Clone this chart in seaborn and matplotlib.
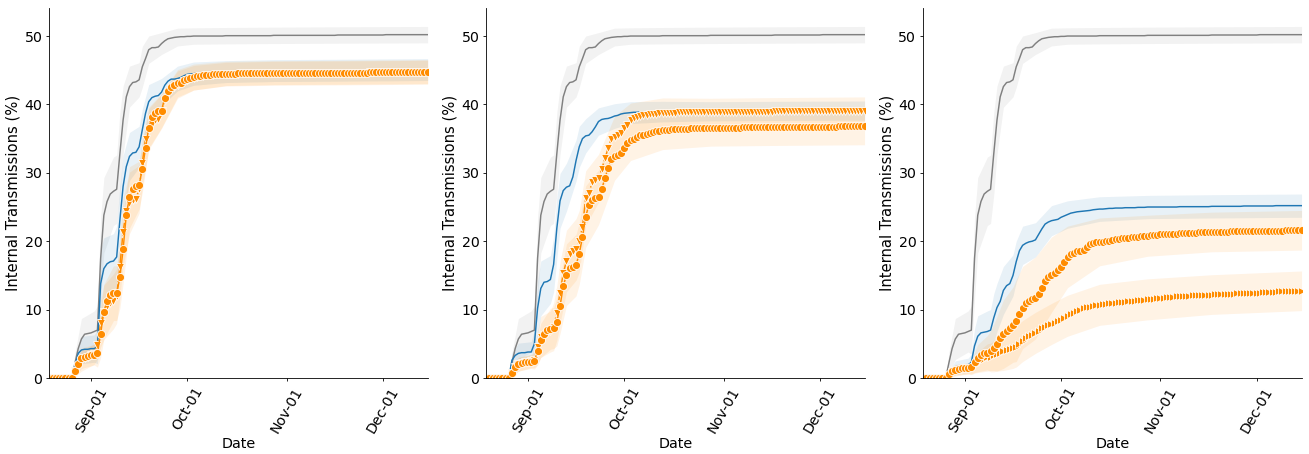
import numpy as np
import pandas as pd
import matplotlib
matplotlib.use('Agg')
import matplotlib.pyplot as plt
import matplotlib.dates as mdates
import seaborn as sns


START_DATE = '2020-08-19'
N_DAYS = 119

# grey reference curve, same in every panel
baseline = [
    0, 0, 0, 0, 0, 0, 0, 0, 2.2, 4.3,
    5.7, 6.4, 6.5, 6.6, 6.8, 7.0, 17.5, 23.8, 25.8, 26.9,
    27.3, 27.6, 32.8, 37.7, 41.1, 42.6, 43.2, 43.3, 43.6, 45.5,
    46.7, 48.0, 48.3, 48.3, 48.4, 48.9, 49.3, 49.6, 49.7, 49.8,
    49.85, 49.9, 49.9, 49.95, 49.95, 50.0, 50.0, 50.0, 50.0, 50.0,
    50.0, 50.0, 50.0, 50.0, 50.0, 50.05, 50.05, 50.05, 50.05, 50.05,
    50.05, 50.05, 50.05, 50.05, 50.05, 50.05, 50.05, 50.05, 50.05, 50.05,
    50.1, 50.1, 50.1, 50.1, 50.1, 50.1, 50.1, 50.1, 50.1, 50.1,
    50.1, 50.1, 50.1, 50.1, 50.1, 50.1, 50.1, 50.1, 50.1, 50.1,
    50.15, 50.15, 50.15, 50.15, 50.15, 50.15, 50.15, 50.15, 50.15, 50.15,
    50.15, 50.15, 50.15, 50.15, 50.15, 50.2, 50.2, 50.2, 50.2, 50.2,
    50.2, 50.2, 50.2, 50.2, 50.2, 50.2, 50.2, 50.2, 50.2,
]

# panel 1
p1_blue = [
    0, 0, 0, 0, 0, 0, 0, 0, 1.7, 3.6,
    4.1, 4.2, 4.2, 4.3, 4.3, 4.6, 13.8, 16.0, 16.7, 17.0,
    17.1, 17.7, 23.1, 28.0, 30.9, 32.4, 32.9, 33.0, 33.8, 36.3,
    38.7, 40.4, 41.0, 41.2, 41.3, 41.8, 42.8, 43.4, 43.7, 43.7,
    43.8, 43.95, 44.2, 44.4, 44.45, 44.5, 44.55, 44.6, 44.65, 44.7,
    44.7, 44.75, 44.75, 44.8, 44.8, 44.8, 44.85, 44.85, 44.85, 44.9,
    44.9, 44.9, 44.9, 44.9, 44.9, 44.9, 44.9, 44.9, 44.9, 44.9,
    44.95, 44.95, 44.95, 44.95, 44.95, 44.95, 44.95, 44.95, 44.95, 44.95,
    45.0, 45.0, 45.0, 45.0, 45.0, 45.0, 45.0, 45.0, 45.0, 45.0,
    45.0, 45.0, 45.0, 45.0, 45.0, 45.05, 45.05, 45.05, 45.05, 45.05,
    45.05, 45.05, 45.05, 45.05, 45.05, 45.05, 45.05, 45.05, 45.05, 45.05,
    45.1, 45.1, 45.1, 45.1, 45.1, 45.1, 45.1, 45.1, 45.1,
]
p1_circle = [
    0, 0, 0, 0, 0, 0, 0, 0, 1.0, 2.0,
    2.9, 3.1, 3.2, 3.3, 3.4, 3.6, 6.5, 9.7, 11.3, 12.1,
    12.4, 12.4, 14.7, 18.8, 23.9, 26.4, 27.7, 28.0, 28.2, 30.6,
    33.6, 36.6, 38.1, 38.8, 39.0, 39.1, 41.0, 42.0, 42.6, 42.9,
    43.1, 43.2, 43.5, 43.7, 43.8, 44.0, 44.1, 44.2, 44.25, 44.3,
    44.35, 44.4, 44.4, 44.45, 44.45, 44.5, 44.5, 44.5, 44.5, 44.55,
    44.55, 44.55, 44.55, 44.55, 44.55, 44.55, 44.55, 44.55, 44.55, 44.55,
    44.6, 44.6, 44.6, 44.6, 44.6, 44.6, 44.6, 44.6, 44.6, 44.6,
    44.6, 44.6, 44.6, 44.6, 44.6, 44.65, 44.65, 44.65, 44.65, 44.65,
    44.65, 44.65, 44.65, 44.65, 44.65, 44.65, 44.65, 44.65, 44.65, 44.65,
    44.7, 44.7, 44.7, 44.7, 44.7, 44.7, 44.7, 44.7, 44.7, 44.7,
    44.7, 44.7, 44.7, 44.7, 44.75, 44.75, 44.75, 44.75, 44.75,
]
p1_tri = [
    0, 0, 0, 0, 0, 0, 0, 0, 1.0, 1.8,
    2.5, 2.9, 3.1, 3.3, 3.5, 4.8, 8.0, 9.6, 10.6, 11.0,
    11.2, 12.0, 16.3, 21.4, 24.4, 25.6, 26.0, 26.2, 27.6, 31.5,
    35.0, 36.4, 37.2, 37.7, 37.9, 39.0, 40.6, 41.6, 42.2, 42.6,
    42.9, 43.1, 43.4, 43.6, 43.8, 43.9, 44.0, 44.1, 44.2, 44.25,
    44.3, 44.35, 44.4, 44.4, 44.45, 44.45, 44.5, 44.5, 44.5, 44.5,
    44.55, 44.55, 44.55, 44.55, 44.55, 44.55, 44.55, 44.55, 44.55, 44.55,
    44.6, 44.6, 44.6, 44.6, 44.6, 44.6, 44.6, 44.6, 44.6, 44.6,
    44.6, 44.6, 44.6, 44.6, 44.6, 44.65, 44.65, 44.65, 44.65, 44.65,
    44.65, 44.65, 44.65, 44.65, 44.65, 44.65, 44.65, 44.65, 44.65, 44.65,
    44.7, 44.7, 44.7, 44.7, 44.7, 44.7, 44.7, 44.7, 44.7, 44.7,
    44.7, 44.7, 44.7, 44.7, 44.75, 44.75, 44.75, 44.75, 44.75,
]

# panel 2
p2_blue = [
    0, 0, 0, 0, 0, 0, 0, 0, 2.6, 3.3,
    3.6, 3.7, 3.7, 3.8, 3.8, 5.0, 10.2, 13.1, 14.0, 14.1,
    14.4, 16.6, 21.9, 25.9, 27.4, 27.9, 28.1, 29.4, 31.8, 33.8,
    35.0, 35.4, 35.5, 36.0, 36.7, 37.5, 37.8, 37.9, 37.95, 38.1,
    38.3, 38.4, 38.6, 38.7, 38.75, 38.8, 38.85, 38.85, 38.9, 38.9,
    38.9, 38.9, 38.95, 38.95, 38.95, 38.95, 39.0, 39.0, 39.0, 39.0,
    39.0, 39.0, 39.0, 39.0, 39.0, 39.0, 39.0, 39.0, 39.0, 39.0,
    39.0, 39.0, 39.0, 39.0, 39.0, 39.05, 39.05, 39.05, 39.05, 39.05,
    39.05, 39.05, 39.05, 39.05, 39.05, 39.05, 39.05, 39.05, 39.05, 39.05,
    39.05, 39.05, 39.05, 39.05, 39.05, 39.1, 39.1, 39.1, 39.1, 39.1,
    39.1, 39.1, 39.1, 39.1, 39.1, 39.1, 39.1, 39.1, 39.1, 39.1,
    39.1, 39.1, 39.1, 39.1, 39.1, 39.1, 39.1, 39.1, 39.1,
]
p2_circle = [
    0, 0, 0, 0, 0, 0, 0, 0, 0.8, 1.6,
    2.0, 2.2, 2.3, 2.3, 2.4, 2.5, 3.9, 5.5, 6.5, 7.0,
    7.2, 7.3, 8.2, 10.5, 13.4, 15.1, 16.1, 16.3, 16.5, 18.2,
    20.6, 23.6, 25.3, 26.0, 26.3, 26.4, 27.6, 29.2, 30.7, 32.0,
    32.4, 32.6, 32.9, 33.6, 34.3, 34.8, 35.0, 35.3, 35.5, 35.6,
    35.7, 35.85, 36.0, 36.05, 36.1, 36.2, 36.25, 36.3, 36.35, 36.35,
    36.4, 36.4, 36.45, 36.45, 36.5, 36.5, 36.5, 36.55, 36.55, 36.55,
    36.6, 36.6, 36.6, 36.6, 36.6, 36.6, 36.6, 36.6, 36.6, 36.6,
    36.65, 36.65, 36.65, 36.65, 36.65, 36.65, 36.65, 36.65, 36.65, 36.65,
    36.7, 36.7, 36.7, 36.7, 36.7, 36.7, 36.7, 36.7, 36.7, 36.7,
    36.75, 36.75, 36.75, 36.75, 36.75, 36.75, 36.75, 36.75, 36.75, 36.75,
    36.8, 36.8, 36.8, 36.8, 36.8, 36.8, 36.8, 36.8, 36.8,
]
p2_tri = [
    0, 0, 0, 0, 0, 0, 0, 0, 0.8, 1.6,
    2.0, 2.2, 2.3, 2.4, 2.5, 2.7, 4.5, 6.0, 6.3, 6.6,
    6.8, 7.5, 9.5, 12.5, 15.3, 17.1, 18.2, 18.6, 18.8, 20.0,
    22.1, 26.3, 27.0, 28.6, 29.0, 29.2, 30.5, 32.1, 33.6, 35.0,
    35.3, 35.5, 35.8, 36.5, 37.0, 37.7, 38.0, 38.2, 38.35, 38.45,
    38.5, 38.55, 38.6, 38.65, 38.7, 38.75, 38.75, 38.8, 38.8, 38.8,
    38.85, 38.85, 38.85, 38.85, 38.85, 38.85, 38.85, 38.85, 38.85, 38.85,
    38.9, 38.9, 38.9, 38.9, 38.9, 38.9, 38.9, 38.9, 38.9, 38.9,
    38.95, 38.95, 38.95, 38.95, 38.95, 38.95, 38.95, 38.95, 38.95, 38.95,
    39.0, 39.0, 39.0, 39.0, 39.0, 39.0, 39.0, 39.0, 39.0, 39.0,
    39.05, 39.05, 39.05, 39.05, 39.05, 39.05, 39.05, 39.05, 39.05, 39.05,
    39.1, 39.1, 39.1, 39.1, 39.1, 39.1, 39.1, 39.1, 39.1,
]

# panel 3
p3_blue = [
    0, 0, 0, 0, 0, 0, 0, 0, 0.5, 1.2,
    1.5, 1.7, 1.8, 1.8, 1.9, 2.3, 4.7, 6.1, 6.6, 6.7,
    6.8, 7.0, 8.8, 10.3, 11.2, 12.8, 13.5, 13.8, 15.0, 17.0,
    18.6, 19.4, 19.7, 19.9, 20.0, 20.2, 21.0, 21.8, 22.5, 22.8,
    23.0, 23.1, 23.2, 23.5, 23.7, 23.9, 24.1, 24.2, 24.3, 24.35,
    24.4, 24.45, 24.5, 24.6, 24.65, 24.7, 24.7, 24.75, 24.8, 24.8,
    24.85, 24.85, 24.85, 24.9, 24.9, 24.9, 24.9, 24.95, 24.95, 24.95,
    25.0, 25.0, 25.0, 25.0, 25.0, 25.0, 25.0, 25.0, 25.0, 25.0,
    25.05, 25.05, 25.05, 25.05, 25.05, 25.05, 25.05, 25.05, 25.05, 25.05,
    25.1, 25.1, 25.1, 25.1, 25.1, 25.1, 25.1, 25.1, 25.1, 25.1,
    25.15, 25.15, 25.15, 25.15, 25.15, 25.15, 25.15, 25.15, 25.15, 25.15,
    25.2, 25.2, 25.2, 25.2, 25.2, 25.2, 25.2, 25.2, 25.2,
]
p3_circle = [
    0, 0, 0, 0, 0, 0, 0, 0, 0.6, 1.0,
    1.2, 1.3, 1.4, 1.4, 1.4, 1.6, 2.3, 2.9, 3.4, 3.6,
    3.7, 3.9, 4.4, 5.0, 5.8, 6.4, 6.9, 7.3, 7.8, 8.4,
    9.3, 10.3, 11.0, 11.3, 11.5, 11.7, 12.3, 13.2, 14.2, 14.8,
    15.1, 15.4, 15.8, 16.3, 17.0, 17.7, 18.1, 18.3, 18.5, 18.6,
    18.7, 19.1, 19.6, 19.8, 19.85, 19.9, 19.95, 20.0, 20.1, 20.2,
    20.3, 20.35, 20.4, 20.45, 20.5, 20.55, 20.6, 20.65, 20.7, 20.75,
    20.8, 20.85, 20.9, 20.95, 21.0, 21.0, 21.05, 21.05, 21.1, 21.1,
    21.15, 21.15, 21.2, 21.2, 21.25, 21.25, 21.3, 21.3, 21.3, 21.35,
    21.35, 21.35, 21.4, 21.4, 21.4, 21.4, 21.45, 21.45, 21.45, 21.5,
    21.5, 21.5, 21.5, 21.5, 21.5, 21.55, 21.55, 21.55, 21.55, 21.55,
    21.55, 21.55, 21.55, 21.6, 21.6, 21.6, 21.6, 21.6, 21.6,
]
p3_tri = [
    0, 0, 0, 0, 0, 0, 0, 0, 0.5, 0.9,
    1.1, 1.2, 1.3, 1.3, 1.4, 1.5, 1.9, 2.3, 2.6, 2.8,
    3.0, 3.1, 3.3, 3.5, 3.7, 3.9, 4.1, 4.2, 4.4, 4.6,
    5.0, 5.4, 5.8, 6.1, 6.3, 6.6, 6.9, 7.3, 7.5, 7.7,
    7.9, 8.1, 8.3, 8.5, 8.8, 9.1, 9.3, 9.5, 9.8, 10.0,
    10.2, 10.35, 10.45, 10.55, 10.65, 10.7, 10.8, 10.85, 10.9, 10.95,
    11.0, 11.05, 11.1, 11.15, 11.2, 11.25, 11.3, 11.35, 11.4, 11.45,
    11.5, 11.55, 11.6, 11.65, 11.7, 11.75, 11.8, 11.85, 11.9, 11.95,
    12.0, 12.0, 12.05, 12.05, 12.1, 12.1, 12.15, 12.15, 12.2, 12.2,
    12.2, 12.25, 12.25, 12.3, 12.3, 12.3, 12.35, 12.35, 12.4, 12.4,
    12.4, 12.45, 12.45, 12.5, 12.5, 12.5, 12.55, 12.55, 12.6, 12.6,
    12.6, 12.65, 12.65, 12.65, 12.7, 12.7, 12.7, 12.75, 12.75,
]

# spread of the shaded bands, read at these days
band_days = [0, 7, 8, 10, 14, 15, 16, 17, 20, 21, 22, 23, 25, 28, 29, 31, 35, 40, 45, 55, 70, 90, 118]
baseline_hw = [0, 0, 1.5, 3.0, 3.0, 3.5, 6.0, 5.5, 5.0, 5.0, 6.0, 5.0, 3.0, 2.5, 3.0, 2.0, 1.6, 1.3, 1.2, 1.2, 1.2, 1.2, 1.2]
p1_blue_hw = [0, 0, 1.0, 2.0, 2.0, 2.5, 5.0, 4.5, 4.0, 4.5, 5.0, 4.5, 3.5, 3.0, 3.0, 2.5, 2.0, 1.8, 1.7, 1.6, 1.6, 1.6, 1.6]
p1_circle_hw = [0, 0, 0.8, 1.5, 1.5, 2.0, 3.5, 4.0, 4.0, 4.0, 4.5, 5.0, 4.5, 3.5, 3.5, 3.0, 2.5, 2.0, 1.9, 1.8, 1.8, 1.8, 1.8]
p1_tri_hw = [0, 0, 0.8, 1.5, 1.5, 2.0, 3.5, 4.0, 4.0, 4.0, 4.5, 5.0, 4.5, 3.5, 3.5, 3.0, 2.5, 2.0, 1.8, 1.7, 1.7, 1.7, 1.7]
p2_blue_hw = [0, 0, 1.0, 1.5, 1.5, 2.0, 4.0, 4.0, 3.5, 4.0, 4.5, 4.0, 3.5, 3.0, 3.0, 2.5, 2.0, 1.8, 1.6, 1.5, 1.4, 1.4, 1.4]
p2_circle_hw = [0, 0, 0.6, 1.0, 1.0, 1.2, 2.0, 2.5, 3.0, 3.0, 3.5, 4.0, 4.5, 4.5, 4.5, 4.5, 4.0, 3.5, 3.0, 2.8, 2.7, 2.7, 2.7]
p2_tri_hw = [0, 0, 0.6, 1.0, 1.0, 1.2, 2.5, 3.0, 3.0, 3.5, 4.0, 4.5, 4.5, 4.5, 4.5, 4.0, 3.5, 3.0, 2.5, 2.2, 2.0, 2.0, 2.0]
p3_blue_hw = [0, 0, 0.5, 1.0, 1.0, 1.2, 2.5, 3.0, 3.0, 3.0, 3.5, 3.5, 3.5, 3.0, 3.0, 2.8, 2.5, 2.2, 2.0, 1.8, 1.7, 1.7, 1.7]
p3_circle_hw = [0, 0, 0.5, 0.8, 0.8, 1.0, 1.5, 2.0, 2.5, 3.0, 3.5, 4.0, 5.0, 5.5, 6.0, 6.0, 6.0, 5.5, 4.5, 3.5, 3.0, 2.9, 2.9]
p3_tri_hw = [0, 0, 0.5, 0.8, 0.8, 1.0, 1.2, 1.5, 2.0, 2.0, 2.2, 2.5, 2.8, 3.0, 3.0, 3.0, 3.0, 3.0, 3.0, 3.0, 3.0, 2.9, 2.9]

GREY = '#808080'
BLUE = '#1f77b4'
ORANGE = '#ff8c00'

dates = pd.date_range(START_DATE, periods=N_DAYS, freq='D')
band_dates = dates[band_days]


def draw_series(ax, values, spread, color, **kw):
    values = np.asarray(values, dtype=float)
    spread = np.asarray(spread, dtype=float)
    lo = np.clip(values[band_days] - spread, 0, None)
    hi = values[band_days] + spread
    ax.fill_between(band_dates, lo, hi, color=color, alpha=0.1, linewidth=0)
    sns.lineplot(x=dates, y=values, ax=ax, color=color, **kw)


fig = plt.figure(figsize=(13.09, 4.54), dpi=100)
lefts = [0.0377, 0.3715, 0.7053]
axes = [fig.add_axes([l, 0.1674, 0.2890, 0.8150]) for l in lefts]

panels = [
    (p1_blue, p1_blue_hw, p1_circle, p1_circle_hw, p1_tri, p1_tri_hw, 'v'),
    (p2_blue, p2_blue_hw, p2_circle, p2_circle_hw, p2_tri, p2_tri_hw, 'v'),
    (p3_blue, p3_blue_hw, p3_circle, p3_circle_hw, p3_tri, p3_tri_hw, '>'),
]

for ax, (blue, blue_hw, circ, circ_hw, tri, tri_hw, tri_marker) in zip(axes, panels):
    draw_series(ax, baseline, baseline_hw, GREY, linewidth=1.05)
    draw_series(ax, blue, blue_hw, BLUE, linewidth=1.05)
    draw_series(ax, tri, tri_hw, ORANGE, linewidth=1.05, linestyle='-.',
                marker=tri_marker, markersize=5.8, markeredgecolor='white', markeredgewidth=0.6)
    draw_series(ax, circ, circ_hw, ORANGE, linewidth=1.05,
                marker='o', markersize=5.8, markeredgecolor='white', markeredgewidth=0.6)

    ax.set_xlim(dates[0], dates[-1])
    ax.set_ylim(0, 54.1)
    ax.set_yticks([0, 10, 20, 30, 40, 50])
    ax.xaxis.set_major_locator(mdates.MonthLocator())
    ax.xaxis.set_major_formatter(mdates.DateFormatter('%b-%d'))
    ax.tick_params(axis='x', rotation=60)
    ax.tick_params(labelsize=10.2, length=2.5, width=0.6, pad=2.5, colors='black')
    ax.set_xlabel('Date', fontsize=10.4, labelpad=1.0, color='black')
    ax.set_ylabel('Internal Transmissions (%)', fontsize=10.6, labelpad=2.9, color='black')
    for s in ['left', 'bottom']:
        ax.spines[s].set_color('black')
        ax.spines[s].set_linewidth(0.6)
    sns.despine(ax=ax)

fig.savefig('out.png', dpi=100)
